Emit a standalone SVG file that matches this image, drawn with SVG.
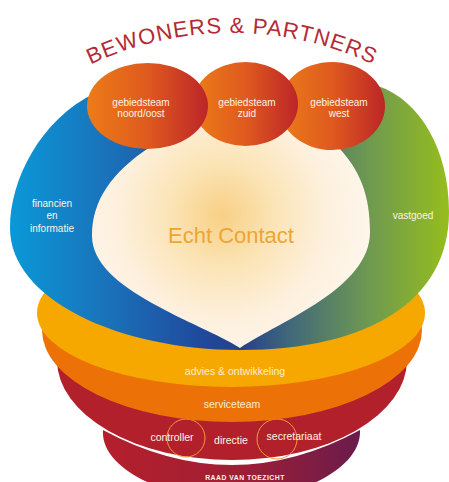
<svg xmlns="http://www.w3.org/2000/svg" width="449" height="482" viewBox="0 0 449 482">
<defs>
<style>
.lbl{font-family:"Liberation Sans",Arial,sans-serif;fill:#fff3e4;text-anchor:middle}
.s10{font-size:10px}
.band{font-size:10.5px;fill:#fdecd2}
.title{font-family:"Liberation Sans",Arial,sans-serif;font-size:22px;fill:#b42a35;letter-spacing:1px}
.ring-circle{fill:none;stroke:#f29a3a;stroke-width:1}
</style>
<linearGradient id="gRing" gradientUnits="userSpaceOnUse" x1="10" y1="0" x2="449" y2="0">
<stop offset="0" stop-color="#0a98d8"/>
<stop offset="0.22" stop-color="#1a72ba"/>
<stop offset="0.45" stop-color="#20479a"/>
<stop offset="0.53" stop-color="#26428a"/>
<stop offset="0.64" stop-color="#41697a"/>
<stop offset="0.82" stop-color="#6f9a50"/>
<stop offset="1" stop-color="#96bd1c"/>
</linearGradient>
<radialGradient id="gHeart" gradientUnits="userSpaceOnUse" cx="222" cy="215" r="150">
<stop offset="0" stop-color="#f8d085"/>
<stop offset="0.35" stop-color="#fbe4b6"/>
<stop offset="0.7" stop-color="#fdf0dd"/>
<stop offset="1" stop-color="#fef6ec"/>
</radialGradient>
<linearGradient id="gCircle" x1="0" y1="0" x2="1" y2="0">
<stop offset="0" stop-color="#ec7c18"/>
<stop offset="0.5" stop-color="#df5a1e"/>
<stop offset="1" stop-color="#bc2528"/>
</linearGradient>
<linearGradient id="gRaad" gradientUnits="userSpaceOnUse" x1="103" y1="0" x2="362" y2="0">
<stop offset="0" stop-color="#b51f2c"/>
<stop offset="0.5" stop-color="#a11f34"/>
<stop offset="1" stop-color="#6a1b4c"/>
</linearGradient>
<path id="arcTitle" d="M 41.5,93 A 332,332 0 0 1 422.5,93"/>
</defs>

<g id="raad-van-toezicht">
<path d="M 103,430 C 100,470 170,500 232,500 C 295,500 362,470 360,430 Q 232,500 103,430 Z" fill="url(#gRaad)"/>
<text class="lbl" x="245" y="480" style="font-size:6.8px;font-weight:bold;letter-spacing:0.5px">RAAD VAN TOEZICHT</text>
</g>

<g id="directie">
<ellipse cx="232" cy="360" rx="175" ry="100" fill="#b2212b"/>
<circle class="ring-circle" cx="186" cy="438" r="19"/>
<circle class="ring-circle" cx="277" cy="439" r="20"/>
<text class="lbl" x="172" y="441" style="font-size:10.5px">controller</text>
<text class="lbl" x="231" y="444" style="font-size:10.5px">directie</text>
<text class="lbl" x="294" y="440" style="font-size:10.5px">secretariaat</text>
</g>

<g id="serviceteam">
<ellipse cx="232" cy="330" rx="190" ry="92" fill="#ec7208"/>
<text class="lbl band" x="232" y="408">serviceteam</text>
</g>

<g id="advies-ontwikkeling">
<ellipse cx="231" cy="313" rx="194" ry="74" fill="#f6a800"/>
<text class="lbl band" x="235" y="375">advies &amp; ontwikkeling</text>
</g>

<g id="ring">
<path d="M 10,228 C 10,180 40,120 95,93 C 150,88 320,88 378,86 C 420,100 449,150 449,212 C 449,300 370,350 240,350 C 120,350 10,300 10,228 Z" fill="url(#gRing)"/>
<text class="lbl s10" x="52" y="207">financien</text>
<text class="lbl s10" x="52" y="219">en</text>
<text class="lbl s10" x="52" y="232">informatie</text>
<text class="lbl s10" x="413" y="219">vastgoed</text>
</g>

<g id="echt-contact">
<path d="M 240,348 C 200,322 92,290 92,236 C 92,200 112,172 150,147 L 165,118 L 320,118 L 338,147 C 360,170 370,195 370,232 C 370,288 282,320 240,348 Z" fill="url(#gHeart)"/>
<text x="231" y="243" style="font-family:'Liberation Sans',Arial,sans-serif;font-size:22px;fill:#eea532;text-anchor:middle">Echt Contact</text>
</g>

<g id="gebiedsteam-west">
<ellipse cx="332" cy="106" rx="53" ry="44" fill="url(#gCircle)"/>
<text class="lbl s10" x="339" y="106">gebiedsteam</text>
<text class="lbl s10" x="339" y="117">west</text>
</g>

<g id="gebiedsteam-zuid">
<ellipse cx="245.5" cy="104" rx="52.5" ry="42" fill="url(#gCircle)"/>
<text class="lbl s10" x="247" y="106">gebiedsteam</text>
<text class="lbl s10" x="247" y="117">zuid</text>
</g>

<g id="gebiedsteam-noord-oost">
<ellipse cx="147.5" cy="106" rx="60.5" ry="43" fill="url(#gCircle)"/>
<text class="lbl s10" x="141" y="106">gebiedsteam</text>
<text class="lbl s10" x="141" y="117">noord/oost</text>
</g>

<g id="bewoners-partners">
<text class="title"><textPath href="#arcTitle" startOffset="50%" text-anchor="middle">BEWONERS &amp; PARTNERS</textPath></text>
</g>

<g id="connectors"/>
</svg>
